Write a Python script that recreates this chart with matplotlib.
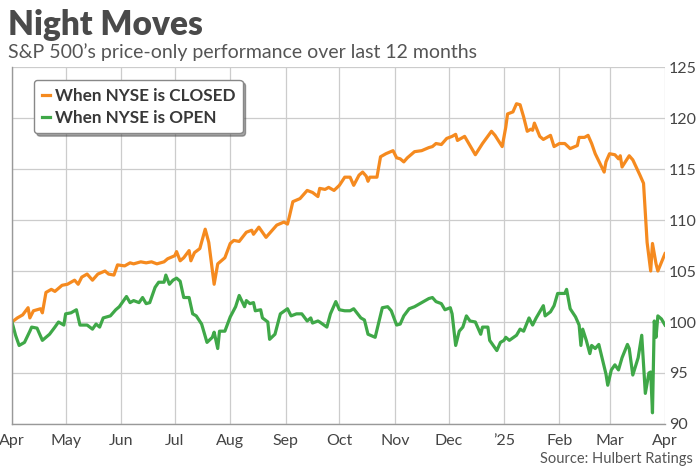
import matplotlib.pyplot as plt
import numpy as np

# Days since 1 Apr 2024
closed_days = [0, 3, 6, 9, 10, 12, 16, 17, 19, 22, 24, 28, 31, 35, 37, 39, 42, 45, 48, 52,
               54, 57, 59, 63, 66, 68, 72, 75, 78, 81, 85, 87, 91, 92, 94, 96, 99, 100, 102, 105,
               108, 110, 113, 115, 119, 122, 124, 127, 131, 134, 135, 138, 142, 148, 152, 154, 155, 157, 161, 165,
               168, 171, 172, 175, 177, 180, 183, 186, 189, 191, 194, 196, 198, 199, 200, 204, 206, 209, 213, 215,
               217, 219, 221, 225, 229, 233, 235, 237, 240, 243, 246, 248, 249, 250, 253, 259, 263, 268, 270, 274,
               276, 277, 280, 282, 284, 286, 288, 290, 291, 292, 295, 297, 301, 303, 306, 309, 312, 316, 317, 320,
               322, 324, 326, 331, 332, 334, 337, 339, 340, 341, 345, 347, 351, 353, 355, 357, 358, 360, 361, 365]
closed_vals = [100.0, 100.4, 100.7, 101.4, 100.4, 101.1, 101.3, 100.9, 102.9, 103.2, 103.0, 103.6, 103.7, 104.1, 103.7, 104.4, 104.7, 104.1, 104.7, 105.0,
               104.7, 104.6, 105.6, 105.5, 105.8, 105.7, 105.9, 105.8, 105.9, 105.7, 105.9, 106.2, 106.5, 106.9, 106.0, 106.3, 107.0, 106.0, 106.8, 107.2,
               109.1, 107.8, 103.7, 105.7, 106.3, 107.7, 108.0, 107.9, 108.8, 109.0, 108.6, 109.3, 108.3, 109.5, 109.8, 109.6, 110.3, 111.8, 112.1, 112.9,
               112.7, 112.3, 113.1, 113.0, 113.2, 112.9, 113.4, 114.2, 114.2, 113.4, 114.4, 114.7, 114.3, 113.8, 114.2, 114.2, 116.2, 116.5, 116.8, 116.1,
               116.0, 115.7, 116.1, 116.7, 116.8, 117.1, 117.2, 117.5, 117.4, 118.0, 118.2, 118.4, 117.8, 117.9, 118.2, 116.4, 117.5, 118.7, 118.3, 117.2,
               119.1, 120.4, 120.6, 121.4, 121.3, 120.1, 118.7, 118.9, 118.8, 119.5, 118.2, 117.9, 118.3, 117.2, 117.5, 117.5, 117.0, 117.3, 118.1, 118.1,
               118.3, 117.5, 116.5, 114.7, 115.7, 116.5, 116.4, 116.0, 116.3, 115.2, 116.3, 115.9, 114.4, 113.6, 107.8, 105.0, 107.7, 105.7, 105.0, 106.7]

open_days = [0, 2, 4, 7, 10, 11, 14, 17, 21, 24, 26, 29, 30, 33, 36, 38, 42, 45, 47, 49,
             51, 55, 58, 60, 64, 66, 68, 71, 73, 75, 77, 80, 82, 85, 86, 88, 90, 92, 94, 96,
             99, 101, 103, 106, 109, 112, 113, 115, 116, 119, 122, 125, 127, 130, 131, 133, 135, 136, 139, 140,
             143, 144, 147, 150, 154, 156, 159, 162, 165, 167, 168, 171, 172, 176, 178, 181, 183, 186, 189, 191,
             195, 197, 199, 203, 207, 210, 212, 215, 217, 219, 222, 225, 228, 233, 235, 237, 240, 242, 245, 246,
             248, 250, 252, 254, 256, 259, 262, 263, 266, 267, 271, 273, 275, 276, 278, 282, 284, 286, 289, 291,
             293, 297, 298, 301, 303, 305, 309, 310, 312, 315, 317, 318, 319, 321, 323, 324, 326, 328, 332, 333,
             335, 337, 339, 341, 344, 345, 347, 350, 352, 354, 356, 357, 358, 359, 360, 361, 363, 365]
open_vals = [100.0, 98.7, 97.7, 98.0, 99.1, 99.5, 99.4, 98.2, 98.8, 99.5, 100.0, 99.7, 100.8, 100.9, 101.2, 99.7, 99.7, 99.3, 99.8, 99.5,
             100.4, 100.6, 101.2, 101.5, 102.5, 101.9, 102.1, 101.9, 102.4, 101.8, 101.9, 103.4, 103.9, 103.9, 104.6, 103.7, 104.1, 104.3, 104.0, 102.4,
             102.4, 100.8, 100.6, 99.8, 98.0, 98.5, 99.0, 97.4, 99.1, 99.1, 100.5, 101.5, 102.6, 101.5, 102.1, 101.8, 101.9, 101.1, 101.2, 100.4,
             100.0, 98.3, 98.8, 100.8, 101.3, 100.6, 100.8, 100.8, 100.1, 100.4, 99.9, 100.1, 100.0, 99.5, 100.8, 102.0, 101.2, 101.1, 101.1, 101.3,
             100.4, 100.2, 98.8, 98.5, 101.4, 101.5, 101.1, 99.7, 99.8, 100.6, 101.3, 101.5, 101.8, 102.3, 102.4, 102.0, 101.8, 101.2, 101.4, 100.8,
             97.7, 99.1, 99.5, 100.6, 100.1, 100.0, 98.8, 99.5, 99.5, 98.2, 97.2, 98.0, 98.2, 98.5, 98.2, 98.7, 99.3, 99.1, 100.4, 99.7,
             100.4, 101.6, 100.6, 101.0, 101.6, 102.8, 102.8, 103.2, 101.3, 100.5, 99.7, 97.7, 99.3, 98.2, 96.9, 97.7, 97.4, 97.8, 94.9, 93.8,
             95.3, 95.8, 95.3, 96.5, 97.8, 97.4, 94.8, 96.5, 98.7, 93.0, 95.0, 95.1, 91.1, 100.1, 98.5, 100.6, 100.3, 99.7]

month_starts = ['2024-04-01', '2024-05-01', '2024-06-01', '2024-07-01', '2024-08-01', '2024-09-01', '2024-10-01',
                '2024-11-01', '2024-12-01', '2025-01-01', '2025-02-01', '2025-03-01', '2025-04-01']
month_labels = ['Apr', 'May', 'Jun', 'Jul', 'Aug', 'Sep', 'Oct', 'Nov', "Dec", "\u201925", 'Feb', 'Mar', 'Apr']
y_ticks = [90, 95, 100, 105, 110, 115, 120, 125]

start = np.datetime64('2024-04-01')
closed_dates = start + np.array(closed_days).astype('timedelta64[D]')
open_dates = start + np.array(open_days).astype('timedelta64[D]')
tick_dates = np.array(month_starts, dtype='datetime64[D]')

plt.rcParams['font.family'] = ['Lato', 'DejaVu Sans']

fig = plt.figure(figsize=(7, 4.71), dpi=100)
ax = fig.add_axes([0.0171, 0.0998, 0.9329, 0.7579])

ax.plot(closed_dates, closed_vals, color='#F58A1F', lw=2.3, label='When NYSE is CLOSED', solid_joinstyle='round')
ax.plot(open_dates, open_vals, color='#3FA848', lw=2.3, label='When NYSE is OPEN', solid_joinstyle='round')

ax.set_ylim(90, 125)
ax.set_xlim(tick_dates[0], tick_dates[-1])
ax.set_yticks(y_ticks)
ax.set_xticks(tick_dates)
ax.set_xticklabels(month_labels)
ax.yaxis.tick_right()
ax.tick_params(axis='both', length=0, labelsize=11.5, colors='#444444')
ax.tick_params(axis='x', pad=7)
ax.tick_params(axis='y', pad=3)
ax.grid(True, color='#cccccc', lw=0.9)
ax.set_axisbelow(True)
for s in ['top', 'right']:
    ax.spines[s].set_visible(False)
for s in ['left', 'bottom']:
    ax.spines[s].set_color('#999999')
    ax.spines[s].set_linewidth(1.0)

leg = ax.legend(loc='upper left', bbox_to_anchor=(0.026, 0.978), handlelength=0.5, handletextpad=0.25,
                fancybox=True, shadow=True, framealpha=1, edgecolor='#888888',
                prop={'size': 12.3, 'weight': 'bold'}, borderpad=0.45, borderaxespad=0.3, labelspacing=0.35)
for t in leg.get_texts():
    t.set_color('#383838')

fig.text(0.011, 0.925, 'Night Moves', fontsize=24, fontweight='heavy', color='#4a4a4a')
fig.text(0.011, 0.877, "S&P 500\u2019s price-only performance over last 12 months", fontsize=14, color='#555555')
fig.text(0.99, 0.018, 'Source: Hulbert Ratings', fontsize=10.5, color='#555555', ha='right')

plt.savefig('out.png', dpi=100)
